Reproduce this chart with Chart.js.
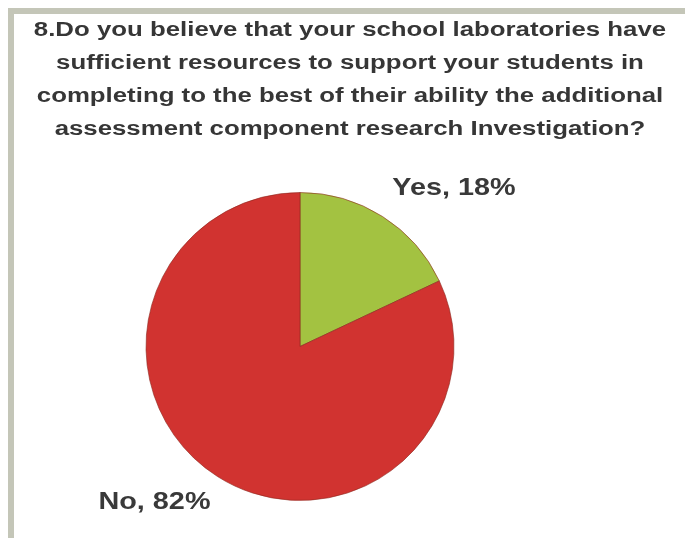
<!DOCTYPE html>
<html>
<head>
<meta charset="utf-8">
<script src="https://cdn.jsdelivr.net/npm/chart.js@4.4.1/dist/chart.umd.min.js"></script>
<style>
  html, body { margin: 0; padding: 0; background: #fff; }
  #wrap { position: relative; width: 685px; height: 538px; overflow: hidden; background: #fff; }
  #frame {
    position: absolute; left: 8px; top: 8px; right: -10px; bottom: -10px;
    border-top: 6px solid #c4c6b8; border-left: 6px solid #c4c6b8;
    pointer-events: none;
  }
  #titre {
    position: absolute; left: 0; top: 13px; width: 700px;
    text-align: center; font: bold 20px "Liberation Sans", Arial, sans-serif;
    line-height: 33px; color: #363636;
    transform: scaleX(1.29); transform-origin: 350px 0;
    white-space: nowrap;
  }
  canvas { position: absolute; left: 0; top: 0; }
</style>
</head>
<body>
<div id="wrap">
  <canvas id="grafico" width="685" height="538"></canvas>
  <div id="frame"></div>
  <div id="titre"></div>
</div>
<script>
// Dados do gráfico
const titleLines = [
  '8.Do you believe that your school laboratories have',
  'sufficient resources to support your students in',
  'completing to the best of their ability the additional',
  'assessment component research Investigation?'
];
const categories = ['Yes', 'No'];
const values = [18, 82];
const sliceColors = ['#a3c241', '#d13330'];

document.getElementById('titre').innerHTML = titleLines.join('<br>');

// Posição dos rótulos relativa ao centro da pizza (em raios)
const labelOffsets = [[1.0, -1.03], [-0.945, 1.01]];

const rotulosPlugin = {
  id: 'rotulos',
  afterDatasetsDraw(chart) {
    const ctx = chart.ctx;
    const meta = chart.getDatasetMeta(0);
    ctx.save();
    ctx.font = 'bold 24px "Liberation Sans", Arial, sans-serif';
    ctx.fillStyle = '#393939';
    ctx.textAlign = 'center';
    ctx.textBaseline = 'middle';
    meta.data.forEach(function(arc, i) {
      const r = arc.outerRadius;
      const x = arc.x + labelOffsets[i][0] * r;
      const y = arc.y + labelOffsets[i][1] * r;
      ctx.save();
      ctx.translate(x, y);
      ctx.scale(1.2, 1);
      ctx.fillText(categories[i] + ', ' + values[i] + '%', 0, 0);
      ctx.restore();
    });
    ctx.restore();
  }
};

new Chart(document.getElementById('grafico').getContext('2d'), {
  type: 'pie',
  data: {
    labels: categories,
    datasets: [{
      data: values,
      backgroundColor: sliceColors,
      borderColor: 'rgba(140, 40, 30, 0.6)',
      borderWidth: 1
    }]
  },
  options: {
    responsive: false,
    animation: false,
    layout: { padding: { top: 192, bottom: 37, left: 0, right: 85 } },
    plugins: {
      legend: { display: false },
      tooltip: { enabled: false },
      title: { display: false }
    }
  },
  plugins: [rotulosPlugin]
});
</script>
</body>
</html>
